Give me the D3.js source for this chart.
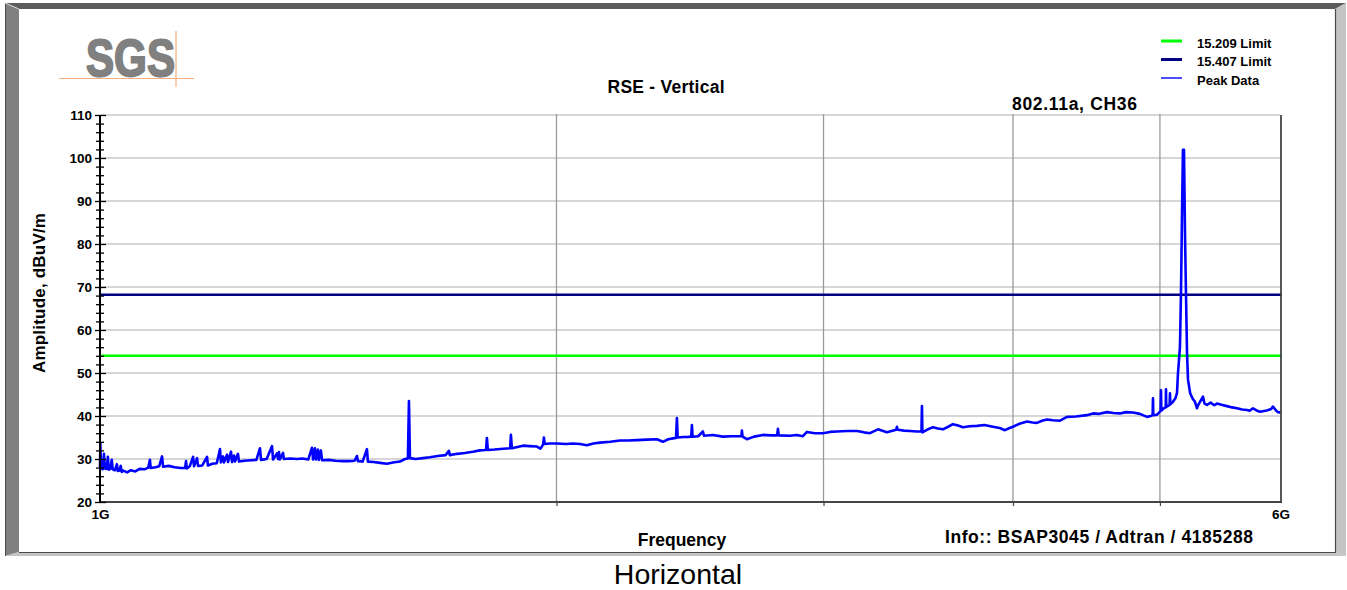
<!DOCTYPE html>
<html>
<head>
<meta charset="utf-8">
<script src="https://cdn.jsdelivr.net/npm/d3@7"></script>
<style>
  html, body { margin: 0; padding: 0; background: #ffffff; }
  svg { display: block; font-family: "Liberation Sans", Arial, sans-serif; }
</style>
</head>
<body>
<svg id="chart" width="1347" height="590"></svg>
<script>
// ---- Measured peak trace, frequency in MHz and level in dBuV/m ----
const freqMHz = [
  1000, 1000.5, 1001.5, 1004, 1006, 1007.5, 1010, 1012, 1013.5, 1016, 1018, 1019.5, 1023, 1026, 1027.5,
  1030, 1032, 1033.5, 1036, 1042, 1048, 1055, 1062, 1070, 1076, 1078.8, 1080, 1088, 1094, 1098.8, 1100.5,
  1110, 1120, 1130, 1138, 1139.5, 1141, 1146, 1151.8, 1153.5, 1158.8, 1160.5, 1168, 1176.5, 1178, 1186,
  1194, 1199.9, 1201.5, 1205.4, 1207, 1212.7, 1214.5, 1220.1, 1222, 1225.7, 1227.5, 1233.1, 1235, 1245,
  1258, 1268, 1275, 1277, 1288, 1298.5, 1300.5, 1308.4, 1310.5, 1312.3, 1314, 1320.3, 1322, 1335, 1348.5,
  1360, 1372, 1379.6, 1382, 1385.9, 1388, 1392.2, 1394, 1398.6, 1401, 1415, 1430, 1446, 1460, 1472,
  1477.2, 1479.5, 1490, 1499.8, 1502, 1515, 1530, 1546, 1560, 1576.9, 1588.9, 1596, 1598.6, 1601, 1615,
  1632.9, 1650, 1670, 1690, 1698.6, 1701, 1720, 1740, 1761.6, 1780, 1797, 1799.5, 1802, 1820, 1845,
  1864, 1866.3, 1869, 1885, 1900.6, 1920, 1941.4, 1952, 1960, 1962.1, 1964.5, 1980, 2001.3, 2030, 2050,
  2072.4, 2094.6, 2115, 2136.3, 2170, 2202.2, 2230, 2259.8, 2295, 2329.5, 2350.8, 2370, 2386.7, 2398,
  2401.3, 2404, 2425, 2440, 2454, 2456.6, 2459, 2480, 2497.9, 2502, 2536.2, 2575, 2610, 2648, 2650.4,
  2653, 2670.6, 2700, 2736.3, 2770, 2796, 2799.3, 2803, 2850.8, 2880, 2907.6, 2925.3, 2960, 2997.3,
  3030, 3061.7, 3110, 3156.1, 3190, 3219, 3258.4, 3303.2, 3350, 3353.8, 3358, 3390, 3420.7, 3457.2,
  3481, 3483.6, 3486, 3510, 3542.2, 3570, 3596.4, 3625, 3651.4, 3680, 3707.3, 3745, 3786.9, 3830, 3880,
  3920, 3951.4, 3980, 4000, 4040, 4086, 4120, 4148.5, 4180, 4212, 4250, 4296, 4341.9, 4400, 4475.8,
  4516.8, 4560, 4613.8, 4660, 4705.7, 4750, 4799.5, 4850, 4902.6, 4930, 4945, 4947.5, 4950, 4977.6,
  5000.4, 5005, 5008, 5011, 5030, 5044, 5046.2, 5048.5, 5065, 5074, 5076.9, 5080, 5100.1, 5120, 5131.1,
  5138.9, 5154.5, 5162.4, 5172, 5178, 5186, 5194, 5201.7, 5210, 5218, 5235, 5255, 5273.3, 5289.4, 5300,
  5313.5, 5337.8, 5350, 5370.3, 5400, 5430, 5452.5, 5490, 5535.9, 5580, 5620.6, 5665, 5706.6, 5730,
  5758.8, 5790, 5820.3, 5880, 5920, 5936.3, 5960, 5980, 6000
];
const peakDbuv = [
  28.2, 33.7, 28.0, 27.6, 31.2, 27.8, 27.7, 30.5, 27.5, 27.8, 29.8, 27.6, 27.4, 28.8, 27.2,
  27.3, 28.4, 27.0, 27.3, 26.9, 27.4, 27.1, 27.7, 27.6, 28.0, 29.8, 27.9, 28.1, 28.3, 30.6, 28.2,
  28.4, 28.1, 27.9, 27.9, 29.5, 27.8, 28.3, 30.5, 28.3, 30.2, 28.4, 28.5, 30.5, 28.5, 28.9,
  29.0, 32.3, 29.2, 30.6, 29.2, 31.0, 29.3, 31.7, 29.3, 30.8, 29.4, 31.2, 29.4, 29.6,
  29.7, 29.8, 32.5, 29.8, 30.0, 33.0, 29.9, 31.3, 30.0, 31.6, 29.9, 31.4, 30.0, 30.1, 30.0,
  30.1, 29.9, 32.6, 29.9, 32.5, 29.9, 32.2, 29.8, 32.0, 29.7, 29.8, 29.6, 29.5, 29.5, 29.6,
  30.7, 29.5, 29.4, 32.3, 29.4, 29.3, 29.1, 28.9, 29.2, 29.4, 30.0, 30.1, 43.5, 30.2, 30.0,
  30.2, 30.4, 30.7, 30.9, 31.9, 30.9, 31.2, 31.4, 31.7, 32.0, 32.1, 34.9, 32.1, 32.2, 32.4,
  32.5, 35.6, 32.5, 32.8, 33.1, 33.0, 32.9, 32.4, 33.4, 35.0, 33.5, 33.6, 33.6, 33.5, 33.6,
  33.5, 33.2, 33.6, 33.8, 34.0, 34.3, 34.3, 34.4, 34.5, 34.6, 34.0, 34.6, 34.8, 34.9,
  39.5, 35.0, 35.1, 35.1, 35.2, 37.9, 35.2, 35.3, 36.4, 35.4, 35.6, 35.2, 35.3, 35.3, 36.6,
  35.2, 34.6, 35.2, 35.6, 35.5, 35.5, 37.0, 35.5, 35.4, 35.6, 35.3, 36.3, 36.0, 36.0,
  36.3, 36.4, 36.5, 36.5, 36.2, 36.0, 36.9, 36.2, 36.8, 37.5, 36.8, 36.6, 36.5, 36.4,
  36.4, 42.3, 36.2, 36.8, 37.4, 37.1, 36.9, 37.5, 38.1, 37.8, 37.4, 37.6, 37.7, 37.9, 37.5,
  37.2, 36.7, 37.2, 37.5, 38.2, 38.7, 38.5, 38.4, 38.9, 39.2, 39.0, 38.9, 39.8, 39.9, 40.2,
  40.6, 40.5, 40.9, 40.7, 40.6, 40.9, 40.8, 40.5, 39.8, 40.0, 40.2, 44.1, 40.2, 40.3,
  41.0, 41.2, 46.0, 41.3, 41.8, 42.0, 46.2, 42.1, 42.4, 42.6, 45.3, 42.7, 43.3, 44.2, 45.3,
  49.9, 56.1, 68.6, 90.2, 101.9, 101.9, 82.5, 68.6, 54.6, 48.4, 45.3, 44.0, 43.3, 41.8, 42.6,
  43.3, 44.5, 42.9, 42.6, 43.1, 42.5, 42.9, 42.6, 42.3, 42.0, 41.8, 41.5, 41.4, 41.2,
  41.8, 41.3, 41.0, 41.3, 41.6, 42.2, 41.4, 40.9, 40.8
];

// ---- Limits and axis definitions ----
const limitNames  = ["15.209 Limit", "15.407 Limit"];
const limitValues = [54, 68.2];
const limitColors = ["#00ff00", "#000080"];
const yMajorTicks = [20, 30, 40, 50, 60, 70, 80, 90, 100, 110];
const yMinorTicks = [22, 24, 26, 28, 32, 34, 36, 38, 42, 44, 46, 48, 52, 54, 56, 58, 62, 64, 66, 68,
                     72, 74, 76, 78, 82, 84, 86, 88, 92, 94, 96, 98, 102, 104, 106, 108];
const xGridTicks  = [2000, 3000, 4000, 5000];
const xLabelTicks = [1000, 6000];
const xLabels     = ["1G", "6G"];
const legendNames  = ["15.209 Limit", "15.407 Limit", "Peak Data"];
const legendColors = ["#00ff00", "#000080", "#0000ff"];
const legendWidths = [3, 3, 1.4];

const svg = d3.select("#chart");

// ---- Window frame (bevelled border) ----
const L = 5, T = 3, R = 1346, B = 556;
const l = 19, t = 9, r = 1335, b = 552;
const frame = svg.append("g");
frame.append("rect").attr("x", l).attr("y", t).attr("width", r - l).attr("height", b - t).attr("fill", "#ffffff");
frame.append("polygon").attr("points", [[L, T], [R, T], [r, t], [l, t]].join(" ")).attr("fill", "#5c5c5c");
frame.append("polygon").attr("points", [[L, T], [l, t], [l, b], [L, B]].join(" ")).attr("fill", "#808080");
frame.append("polygon").attr("points", [[R, T], [R, B], [r, b], [r, t]].join(" ")).attr("fill", "#c4c4c4");
frame.append("polygon").attr("points", [[L, B], [R, B], [r, b], [l, b]].join(" ")).attr("fill", "#c4c4c4");
frame.append("line").attr("x1", r + 0.5).attr("x2", r + 0.5).attr("y1", t).attr("y2", b + 1)
  .attr("stroke", "#4a4a4a").attr("stroke-width", 1.2);
frame.append("line").attr("x1", l).attr("x2", r + 1).attr("y1", b + 0.5).attr("y2", b + 0.5)
  .attr("stroke", "#4a4a4a").attr("stroke-width", 1.2);
frame.append("line").attr("x1", L + 0.5).attr("x2", L + 0.5).attr("y1", T).attr("y2", B)
  .attr("stroke", "#4a4a4a").attr("stroke-width", 1);
frame.append("line").attr("x1", L).attr("x2", l).attr("y1", T).attr("y2", t)
  .attr("stroke", "#d8d8d8").attr("stroke-width", 1);

// ---- Logo ----
const logo = svg.append("g");
logo.append("line").attr("x1", 59).attr("x2", 194).attr("y1", 78.5).attr("y2", 78.5)
  .attr("stroke", "#f4ad7c").attr("stroke-width", 1.2);
logo.append("line").attr("x1", 176).attr("x2", 176).attr("y1", 31).attr("y2", 87)
  .attr("stroke", "#f4ad7c").attr("stroke-width", 1.2);
logo.append("text").attr("x", 86).attr("y", 76).attr("font-size", 52).attr("font-weight", "bold")
  .attr("fill", "#808080").attr("stroke", "#808080").attr("stroke-width", 2)
  .attr("textLength", 89).attr("lengthAdjust", "spacingAndGlyphs").text("SGS");

// ---- Scales ----
const x = d3.scaleLog().domain([1000, 6000]).range([100, 1280]);
const y = d3.scaleLinear().domain([20, 110]).range([502, 115]);

// ---- Grid ----
const grid = svg.append("g");
grid.selectAll("line.h").data(yMajorTicks.filter(v => v > 20)).join("line")
  .attr("x1", x(1000)).attr("x2", x(6000))
  .attr("y1", d => y(d)).attr("y2", d => y(d))
  .attr("stroke", "#c9c9c9").attr("stroke-width", 1.6);
grid.selectAll("line.v").data(xGridTicks).join("line")
  .attr("x1", d => x(d)).attr("x2", d => x(d))
  .attr("y1", y(110) - 1).attr("y2", y(20))
  .attr("stroke", "#9a9a9a").attr("stroke-width", 1.3);

// ---- Limit lines ----
svg.append("g").selectAll("line").data(limitValues).join("line")
  .attr("x1", x(1000)).attr("x2", x(6000) + 2)
  .attr("y1", d => y(d)).attr("y2", d => y(d))
  .attr("stroke", (d, i) => limitColors[i]).attr("stroke-width", 2.6);

// ---- Peak trace ----
const trace = freqMHz.map((f, i) => [f, peakDbuv[i]]);
svg.append("path").datum(trace)
  .attr("fill", "none").attr("stroke", "#0000ff").attr("stroke-width", 2.6)
  .attr("stroke-linejoin", "round").attr("stroke-linecap", "round")
  .attr("d", d3.line().x(d => x(d[0])).y(d => y(d[1])));

// ---- Plot frame edges ----
svg.append("line").attr("x1", x(6000) + 1).attr("x2", x(6000) + 1).attr("y1", y(110)).attr("y2", y(20))
  .attr("stroke", "#454545").attr("stroke-width", 1.8);

// ---- X axis ----
const xAxisTicks = svg.append("g").attr("transform", `translate(0,${y(20)})`)
  .call(d3.axisBottom(x).tickValues(xGridTicks).tickSize(4).tickFormat(""));
xAxisTicks.select(".domain").attr("stroke", "#454545").attr("stroke-width", 2)
  .attr("d", `M${x(1000)},0H${x(6000) + 2}`);
xAxisTicks.selectAll(".tick line").attr("stroke", "#454545").attr("stroke-width", 1.2);

const xAxisLabels = svg.append("g").attr("transform", `translate(0,${y(20)})`)
  .call(d3.axisBottom(x).tickValues(xLabelTicks).tickSize(0).tickPadding(7)
    .tickFormat((d, i) => xLabels[i]));
xAxisLabels.select(".domain").remove();
xAxisLabels.selectAll(".tick text").attr("font-size", 13.5).attr("font-weight", "bold")
  .attr("fill", "#000").attr("font-family", "Liberation Sans, Arial, sans-serif");
xAxisLabels.selectAll(".tick").filter(d => d === 6000).attr("transform", `translate(${x(6000) + 1},0)`);

// ---- Y axis ----
const yAxis = svg.append("g").attr("transform", `translate(${x(1000)},0)`)
  .call(d3.axisLeft(y).tickValues(yMajorTicks).tickSize(5).tickPadding(3));
yAxis.select(".domain").attr("stroke", "#000").attr("stroke-width", 2)
  .attr("d", `M0,${y(110)}V${y(20)}`);
yAxis.selectAll(".tick line").attr("x1", 6).attr("x2", -5).attr("stroke", "#000").attr("stroke-width", 1.3);
yAxis.selectAll(".tick text").attr("font-size", 13.5).attr("font-weight", "bold")
  .attr("fill", "#000").attr("font-family", "Liberation Sans, Arial, sans-serif");

const yMinor = svg.append("g").attr("transform", `translate(${x(1000)},0)`)
  .call(d3.axisLeft(y).tickValues(yMinorTicks).tickSize(4).tickFormat(""));
yMinor.select(".domain").remove();
yMinor.selectAll(".tick line").attr("x1", 4).attr("x2", -4).attr("stroke", "#000").attr("stroke-width", 1.3);

// ---- Titles ----
const txt = svg.append("g").attr("font-weight", "bold").attr("fill", "#000");
txt.append("text").attr("x", 666).attr("y", 93).attr("text-anchor", "middle").attr("font-size", 17.5)
  .attr("textLength", 117).attr("lengthAdjust", "spacing").text("RSE - Vertical");
txt.append("text").attr("x", 1012).attr("y", 110).attr("font-size", 17.5)
  .attr("textLength", 125).attr("lengthAdjust", "spacing").text("802.11a, CH36");
txt.append("text").attr("x", 682).attr("y", 546).attr("text-anchor", "middle").attr("font-size", 17.5)
  .text("Frequency");
txt.append("text").attr("x", 945).attr("y", 542.5).attr("font-size", 17.5)
  .attr("textLength", 308).attr("lengthAdjust", "spacing").text("Info:: BSAP3045 / Adtran / 4185288");
txt.append("text").attr("transform", "translate(45,293) rotate(-90)").attr("text-anchor", "middle")
  .attr("font-size", 17).attr("textLength", 160).attr("lengthAdjust", "spacing").text("Amplitude, dBuV/m");

// ---- Legend ----
const legend = svg.append("g").attr("transform", "translate(1161,41)");
const item = legend.selectAll("g").data(legendNames).join("g")
  .attr("transform", (d, i) => `translate(0,${i * 18.5})`);
item.append("line").attr("x1", 0).attr("x2", 21).attr("y1", 0).attr("y2", 0)
  .attr("stroke", (d, i) => legendColors[i]).attr("stroke-width", (d, i) => legendWidths[i]);
item.append("text").attr("x", 36).attr("y", 6.5).attr("font-size", 13).attr("font-weight", "bold")
  .attr("fill", "#000").text(d => d);

// ---- Caption below the window ----
svg.append("text").attr("x", 678).attr("y", 584).attr("text-anchor", "middle")
  .attr("font-size", 28.5).attr("fill", "#000").text("Horizontal");
</script>
</body>
</html>
